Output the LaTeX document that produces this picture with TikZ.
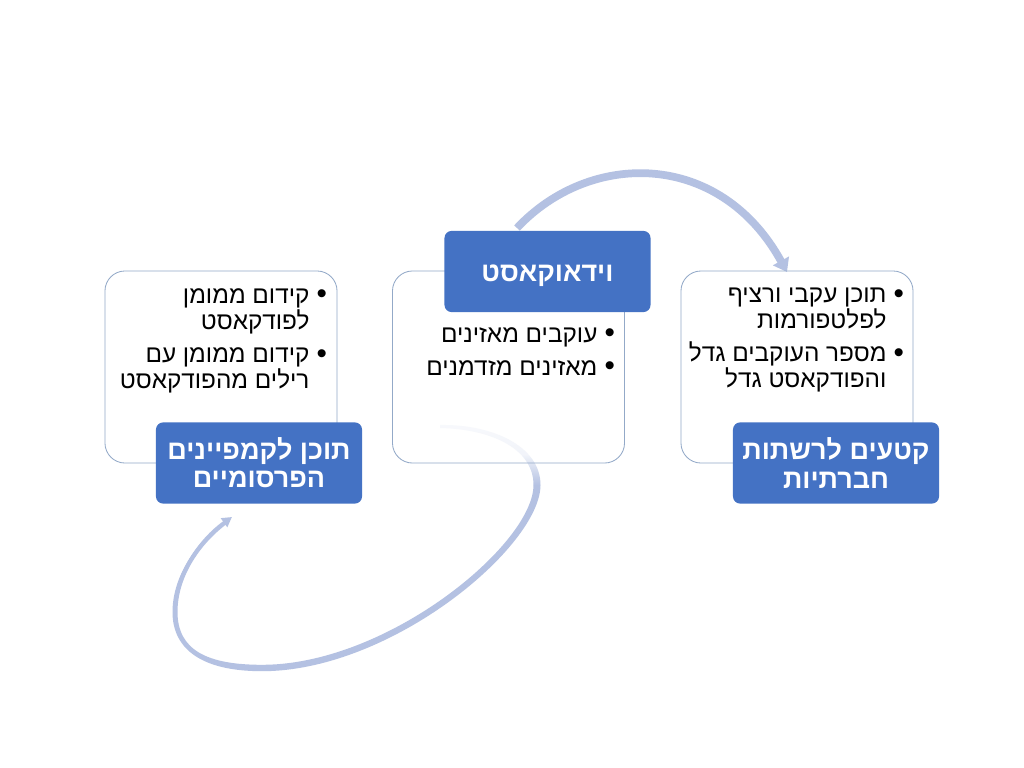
\documentclass[tikz,border=0pt]{standalone}
\usepackage{fontspec}
\setmainfont[Script=Hebrew]{Liberation Sans}
\TeXXeTstate=1
\usetikzlibrary{arrows.meta}
\definecolor{head blue}{HTML}{4472C4}
\definecolor{arc blue}{HTML}{B4C1E2}
\definecolor{box edge}{HTML}{93A9C8}
\newcommand{\heb}[1]{\beginR #1\endR}
\newcommand{\bulline}[1]{\heb{#1}\makebox[13pt][r]{\fontsize{21}{21}\selectfont\raisebox{-0.6pt}{•}\hspace{0.5pt}}}
\newcommand{\contline}[1]{\heb{#1}\makebox[13pt]{}}
\tikzset{listbox/.style={draw=box edge, line width=0.6pt, rounded corners=0.5cm,
        minimum width=5.8cm, minimum height=4.8cm},
    headbox/.style={fill=head blue, rounded corners=0.18cm, text=white, align=center,
        font=\fontsize{19.2}{20}\selectfont\bfseries, minimum width=5.15cm, minimum height=2.03cm,
        inner sep=0pt},
    listtext/.style={anchor=north east, align=right, inner sep=0pt,
        font=\fontsize{17.3}{18.5}\selectfont},
    arcline/.style={draw=arc blue, line width=5.5pt, -{Triangle[length=9pt,width=12.5pt]}},
    tailline/.style={draw=arc blue, line width=2.4pt, -{Triangle[length=7pt,width=7.5pt]}}}

\begin{document}
\begin{tikzpicture}[x=0.025cm, y=-0.025cm]
    \useasboundingbox[fill=white] (0,0) rectangle (1024,768);
    \coordinate (arcstart) at (517,228);
    \coordinate (arcend) at (787,272);
    \coordinate (tailleft) at (175,612);
    \coordinate (tailend) at (232,517);
    % bottom arc, pale at its start and thin at its end
    \shade[top color=arc blue!10, bottom color=arc blue, middle color=arc blue!18]
        (440,425) .. controls (490,424) and (540.5,445) .. (540.5,485)
        -- (533.5,485) .. controls (533.5,448) and (490,429) .. (440,428) -- cycle;
    \fill[arc blue] (540.5,485) .. controls (540.5,546) and (392,671.2) .. (262,671.2)
        .. controls (203,671.2) and (172.5,650) .. (172.5,612)
        .. controls (172.5,575) and (198,540) .. (226,521)
        -- (228,523) .. controls (202,542) and (177.5,575) .. (177.5,612)
        .. controls (177.5,650) and (207,664.8) .. (262,664.8)
        .. controls (388,664.8) and (533.5,544) .. (533.5,485) -- cycle;
    \draw[tailline] (tailleft) .. controls (175,575) and (200,540) .. (tailend);
    \draw[arcline] (arcstart) .. controls (590,150) and (720,150) .. (arcend);

    \node[listbox] (leftbox) at (221,367) {};
    \node[listbox] (midbox) at (508.5,367) {};
    \node[listbox] (rightbox) at (797,367) {};
    \node[headbox] (lefthead) at (259,463) {\heb{תוכן לקמפיינים}\\\heb{הפרסומיים}};
    \node[headbox, text height=18pt, text depth=4pt] (midhead) at (547.5,271.5) {\heb{וידאוקאסט}};
    \node[headbox] (righthead) at (836,463) {\heb{קטעים לרשתות}\\\heb{חברתיות}};

    \node[listtext] (lefttext) at (328,288) {\bulline{קידום ממומן}\\\contline{לפודקאסט}\\[5pt]\bulline{קידום ממומן עם}\\\contline{רילים מהפודקאסט}};
    \node[listtext] (midtext) at (616,327) {\bulline{עוקבים מאזינים}\\[5pt]\bulline{מאזינים מזדמנים}};
    \node[listtext] (righttext) at (905,288) {\bulline{תוכן עקבי ורציף}\\\contline{לפלטפורמות}\\[5pt]\bulline{מספר העוקבים גדל}\\\contline{והפודקאסט גדל}};
\end{tikzpicture}
\end{document}
